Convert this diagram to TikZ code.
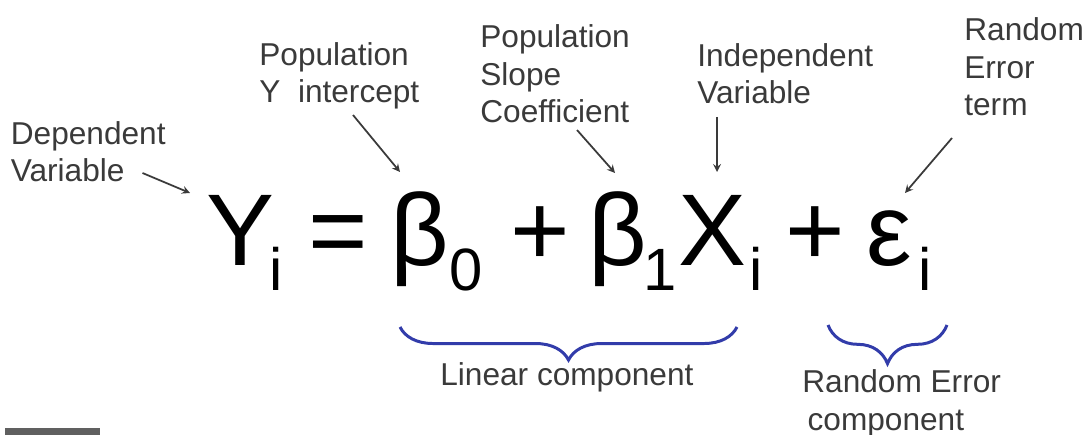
\documentclass[tikz,border=0pt]{standalone}
\usepackage{fontspec}
\usepackage{xcolor}
\usepackage{tikz}
\usetikzlibrary{decorations.pathreplacing}
\setmainfont{Liberation Sans}
\definecolor{labelgray}{RGB}{58,58,58}
\definecolor{braceblue}{RGB}{50,60,170}

\begin{document}
\begin{tikzpicture}[x=0.02cm, y=-0.02cm,
    lbl/.style={anchor=base west, align=left, inner sep=0, text=labelgray, font=\fontsize{18}{21.6}\selectfont},
    sym/.style={anchor=base west, inner sep=0, font=\fontsize{58}{60}\selectfont},
    sub/.style={anchor=base west, inner sep=0, font=\fontsize{34}{36}\selectfont},
    pointer/.style={->, >=stealth, line width=1pt, draw=labelgray},
    curly/.style={decorate, decoration={brace, mirror, amplitude=#1}, line width=1.7pt, draw=braceblue}]
    \useasboundingbox (0,0) rectangle (1087,435);
    % Y_i = b0 + b1 X_i + e_i
    \node[sym] (Y) at (206,265) {Y};
    \node[sub] (iY) at (269,290) {i};
    \node[sym] (eq) at (308,265) {=};
    \node[sym] (b0) at (390,265) {β};
    \node[sub] (s0) at (449,290) {0};
    \node[sym] (p1) at (510,265) {+};
    \node[sym] (b1) at (588,265) {β};
    \node[sub] (s1) at (643,290) {1};
    \node[sym] (X) at (678,265) {X};
    \node[sub] (iX) at (749,290) {i};
    \node[sym] (p2) at (785,265) {+};
    \node[sym] (eps) at (866,265) {ε};
    \node[sub] (ie) at (918,290) {i};
    % labels above (base = last line)
    \node[lbl] (dep) at (10.5,182) {Dependent\\Variable};
    \node[lbl] (icpt) at (259,103) {Population\\Y~~intercept};
    \node[lbl] (slope) at (480,123) {Population\\Slope\\Coefficient};
    \node[lbl] (indep) at (697,104) {Independent\\Variable};
    \node[lbl] (rterm) at (964,116) {Random\\Error\\term};
    \draw[pointer] ([shift={(132,-9)}]dep.base west) -- ([shift={(-16,-72)}]Y.base west);
    \draw[pointer] ([shift={(94,12)}]icpt.base west) -- ([shift={(10,-93)}]b0.base west);
    \draw[pointer] ([shift={(97,7)}]slope.base west) -- ([shift={(27,-92)}]b1.base west);
    \draw[pointer] ([shift={(20,13)}]indep.base west) -- ([shift={(39,-93)}]X.base west);
    \draw[pointer] ([shift={(-12,22)}]rterm.base west) -- ([shift={(39,-72)}]eps.base west);
    % braces below
    \draw[curly=18.8pt] ([shift={(10,62)}]b0.base west) -- ([shift={(59,62)}]X.base west);
    \node[lbl] (lin) at (440,385) {Linear component};
    \draw[curly=22pt] ([shift={(-38,60)}]eps.base west) -- ([shift={(29,35)}]ie.base west);
    \node[lbl] (rerr) at (802,430) {Random Error\\\hspace{3pt}component};
    \fill[gray!75!black] (5,428) rectangle (100,435);
\end{tikzpicture}
\end{document}
